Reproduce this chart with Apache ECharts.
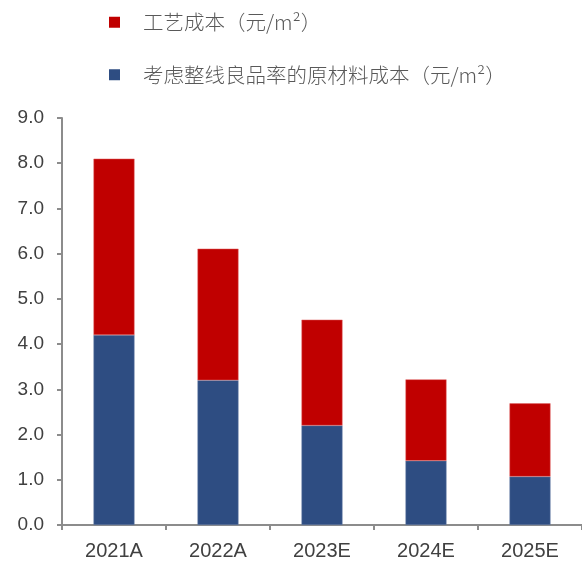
<!DOCTYPE html>
<html>
<head>
<meta charset="utf-8">
<script src="https://cdn.jsdelivr.net/npm/echarts@6/dist/echarts.min.js"></script>
<style>
  html, body { margin: 0; padding: 0; background: #fff; }
  #chart { width: 582px; height: 561px; }
</style>
</head>
<body>
<div id="chart"></div>
<script>
const categories = ["2021A", "2022A", "2023E", "2024E", "2025E"];
const materialCost = [4.2, 3.2, 2.2, 1.42, 1.07];
const processCost = [3.9, 2.91, 2.34, 1.8, 1.62];
const seriesNames = ["工艺成本（元/m²）", "考虑整线良品率的原材料成本（元/m²）"];

const axisColor = "#8c8c8c";
const textColor = "#404040";

const chart = echarts.init(document.getElementById("chart"));
chart.setOption({
  animation: false,
  legend: {
    orient: "vertical",
    left: 104,
    top: 7,
    itemWidth: 11,
    itemHeight: 11,
    itemGap: 32,
    icon: "rect",
    data: seriesNames,
    itemStyle: { borderWidth: 0 },
    textStyle: {
      fontSize: 20.5,
      color: "#595959",
      fontFamily: "Noto Sans CJK SC",
      fontWeight: 300,
      padding: [0, 0, 0, 18],
    },
  },
  grid: { left: 62, right: 0, top: 118, bottom: 35 },
  xAxis: {
    type: "category",
    data: categories,
    axisLine: { lineStyle: { color: axisColor, width: 2 } },
    axisTick: { show: true, length: 5, lineStyle: { color: axisColor, width: 2 } },
    axisLabel: { color: textColor, fontSize: 20, fontFamily: "Liberation Sans", margin: 16 },
  },
  yAxis: {
    type: "value",
    min: 0,
    max: 9,
    interval: 1,
    splitLine: { show: false },
    axisLine: { show: true, lineStyle: { color: axisColor, width: 2 } },
    axisTick: { show: true, length: 5, lineStyle: { color: axisColor, width: 2 } },
    axisLabel: {
      color: textColor,
      fontSize: 19,
      fontFamily: "Liberation Sans",
      margin: 18,
      formatter: (v) => v.toFixed(1),
    },
  },
  series: [
    {
      name: seriesNames[1],
      type: "bar",
      stack: "total",
      barWidth: 41,
      data: materialCost,
      itemStyle: { color: "#2e4d82", borderColor: "#6f84a8", borderWidth: 0.5 },
    },
    {
      name: seriesNames[0],
      type: "bar",
      stack: "total",
      barWidth: 41,
      data: processCost,
      itemStyle: { color: "#c00000", borderColor: "#e06666", borderWidth: 0.5 },
    },
  ],
});
</script>
</body>
</html>
